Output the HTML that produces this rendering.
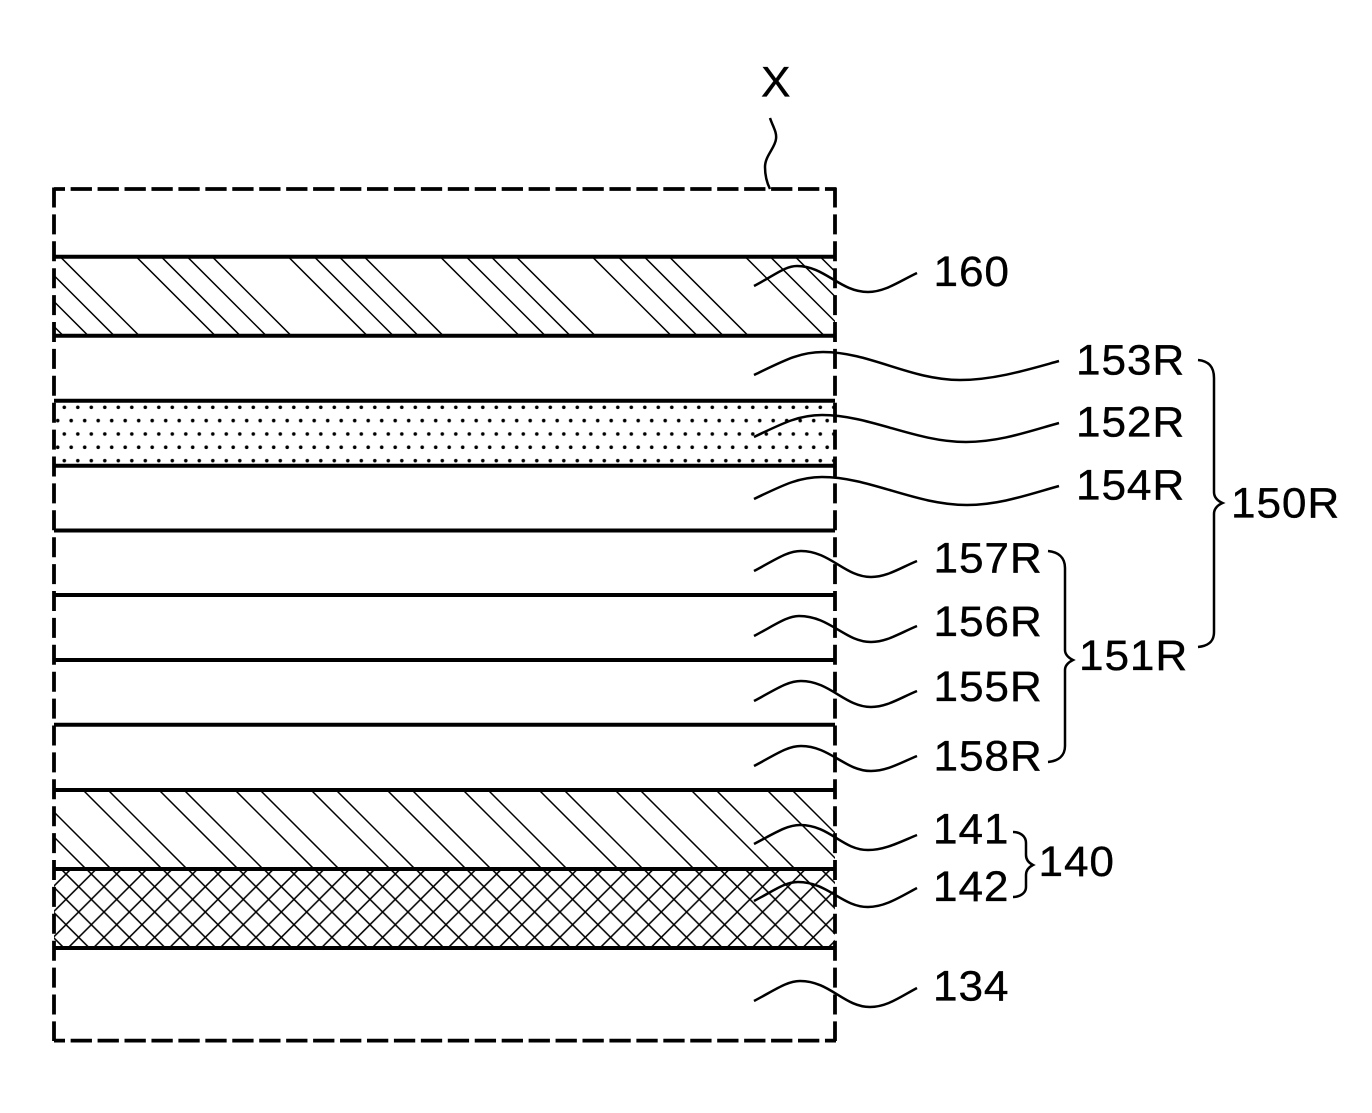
<!DOCTYPE html>
<html lang="en">
<head>
<meta charset="utf-8">
<title>Layer stack diagram</title>
<style>
html,body{margin:0;padding:0;background:#fff;width:1372px;height:1113px;overflow:hidden}
svg{display:block}
text{font-family:"Liberation Sans",Arial,sans-serif;font-size:42.5px;fill:#000;stroke:#000;stroke-width:.35px;letter-spacing:.85px}
</style>
</head>
<body>
<svg width="1372" height="1113" viewBox="0 0 1372 1113" xmlns="http://www.w3.org/2000/svg">
<defs>
<clipPath id="c160"><rect x="54" y="257" width="781" height="79"/></clipPath>
<clipPath id="c141"><rect x="54" y="790" width="781" height="79"/></clipPath>
<pattern id="cross" patternUnits="userSpaceOnUse" x="66" y="874" width="25.33" height="25.33">
<path d="M-2,-2L27.33,27.33M27.33,-2L-2,27.33" stroke="#000" stroke-width="1.5" fill="none"/>
</pattern>
<pattern id="dots" patternUnits="userSpaceOnUse" x="57.7" y="400.6" width="13.5" height="26.67">
<circle cx="6.6" cy="6.7" r="1.8" fill="#000"/>
<circle cx="0" cy="20" r="1.8" fill="#000"/>
<circle cx="13.5" cy="20" r="1.8" fill="#000"/>
</pattern>
</defs>
<rect width="1372" height="1113" fill="#fff"/>

<!-- dotted layer -->
<rect x="54" y="402" width="781" height="62" fill="url(#dots)"/>

<!-- hatch 160 -->
<path clip-path="url(#c160)" stroke="#000" stroke-width="1.5" fill="none" d="M-16.5,256l84,84M8.5,256l84,84M34.5,256l84,84M59.5,256l84,84M135.5,256l84,84M160.5,256l84,84M186.5,256l84,84M211.5,256l84,84M287.5,256l84,84M313.5,256l84,84M338.5,256l84,84M363.5,256l84,84M439.5,256l84,84M465.5,256l84,84M490.5,256l84,84M515.5,256l84,84M591.5,256l84,84M617.5,256l84,84M643.5,256l84,84M668.5,256l84,84M744.5,256l84,84M769.5,256l84,84M794.5,256l84,84M819.5,256l84,84"/>

<!-- hatch 141 -->
<path clip-path="url(#c141)" stroke="#000" stroke-width="1.5" fill="none" d="M7,790l84,84M32,790l84,84M83,790l84,84M108,790l84,84M159,790l84,84M184,790l84,84M235,790l84,84M260,790l84,84M311,790l84,84M336,790l84,84M387,790l84,84M412,790l84,84M463,790l84,84M488,790l84,84M539,790l84,84M564,790l84,84M615,790l84,84M640,790l84,84M691,790l84,84M716,790l84,84M767,790l84,84M792,790l84,84"/>

<!-- crosshatch 142 -->
<rect x="54" y="869" width="781" height="79" fill="url(#cross)"/>

<!-- solid layer lines -->
<g stroke="#000" stroke-width="4" fill="none">
<path d="M54,256.7H835M54,335.7H835M54,400.7H835M54,465.7H835M54,530.5H835M54,595H835M54,660H835M54,724.8H835M54,790H835M54,869H835M54,948H835"/>
</g>

<!-- dashed frame -->
<g stroke="#000" stroke-width="3.8" fill="none">
<path d="M54,189H836" stroke-dasharray="21.3 5.64" stroke-dashoffset="10.3"/>
<path d="M54,1040.6H836" stroke-dasharray="21.3 5.64" stroke-dashoffset="10.3"/>
<path d="M54,187.5V1041" stroke-dasharray="20 6.9" stroke-dashoffset="0"/>
<path d="M835,187.5V1041" stroke-dasharray="20 6.9" stroke-dashoffset="0"/>
</g>

<!-- leaders -->
<g stroke="#000" stroke-width="2.5" fill="none">
<path d="M770,118C773,127 777,132 776,139C775,148 765,156 765,167C765,176 767,183 770,189"/>
<path d="M754,286C775,275 785,266 797,266C825,266 840,292 868,292C885,292 900,281 917,273"/>
<path d="M754,375C785,360 800,352 823,352C870,352 910,380 960,380C995,380 1030,369 1059,361"/>
<path d="M754,437C785,422 800,415 822,415C870,415 915,442 966,442C1000,442 1030,431 1059,423"/>
<path d="M754,499C785,484 800,477 822,477C870,477 915,505 967,505C1000,505 1030,494 1059,486"/>
<path d="M754,571C775,560 787,551 801,551C830,551 845,577 871,577C887,577 900,568 917,561"/>
<path d="M754,636C775,625 787,616 799,616C830,616 845,642 871,642C887,642 900,633 917,626"/>
<path d="M754,701C775,690 787,681 801,681C830,681 845,707 871,707C887,707 900,698 917,691"/>
<path d="M754,766C775,755 787,746 801,746C830,746 845,771 871,771C887,771 900,763 917,756"/>
<path d="M754,844C775,833 787,825 800,825C830,825 842,850 868,850C885,850 900,842 917,835"/>
<path d="M754,901C775,890 785,882 798,882C828,882 842,907 868,907C885,907 900,897 917,888"/>
<path d="M754,1001C775,990 787,981 800,981C830,981 844,1007 870,1007C887,1007 900,997 917,988"/>
</g>

<!-- braces -->
<g stroke="#000" stroke-width="2.5" fill="none">
<path d="M1198,360C1208,361 1214,366 1214,378V492C1214,498 1218,501 1222.5,503C1218,505 1214,508 1214,514V632C1214,642 1208,646 1198,647"/>
<path d="M1048,551C1058,552 1065,557 1065,568V650C1065,655 1069,658 1073,660C1069,662 1065,665 1065,670V746C1065,756 1058,761 1048,762"/>
<path d="M1013,832C1020,832 1026,836 1026,843V855C1026,860 1029,863 1033,865C1029,867 1026,870 1026,875V887C1026,893 1020,897 1013,897"/>
</g>

<!-- labels -->
<text transform="translate(761 96.7) scale(1.04 1)">X</text>
<text transform="translate(933.5 286) scale(1.04 1)">160</text>
<text transform="translate(1076 374.3) scale(1.04 1)">153R</text>
<text transform="translate(1076 436.7) scale(1.04 1)">152R</text>
<text transform="translate(1076 499.3) scale(1.04 1)">154R</text>
<text transform="translate(1231 517.3) scale(1.04 1)">150R</text>
<text transform="translate(933.5 572.7) scale(1.04 1)">157R</text>
<text transform="translate(933.5 636) scale(1.04 1)">156R</text>
<text transform="translate(933.5 701) scale(1.04 1)">155R</text>
<text transform="translate(933.5 770.7) scale(1.04 1)">158R</text>
<text transform="translate(1079 670) scale(1.04 1)">151R</text>
<text transform="translate(933 843.3) scale(1.04 1)">141</text>
<text transform="translate(933 901) scale(1.04 1)">142</text>
<text transform="translate(1038.5 876) scale(1.04 1)">140</text>
<text transform="translate(933 1000.7) scale(1.04 1)">134</text>
</svg>
</body>
</html>
